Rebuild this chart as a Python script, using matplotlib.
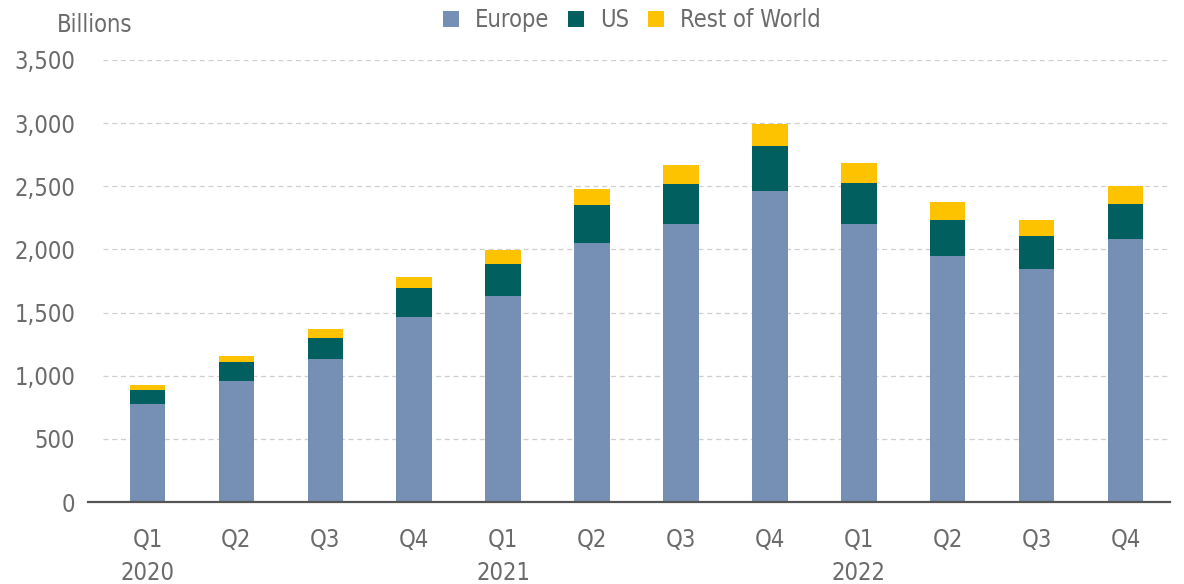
import matplotlib
matplotlib.use("Agg")
import matplotlib.pyplot as plt
import numpy as np

quarters = ["Q1\n2020", "Q2", "Q3", "Q4", "Q1\n2021", "Q2", "Q3", "Q4",
            "Q1\n2022", "Q2", "Q3", "Q4"]
europe = [775, 960, 1130, 1465, 1631, 2051, 2202, 2463, 2202, 1950, 1845, 2082]
us = [112, 150, 172, 229, 256, 301, 317, 357, 324, 283, 263, 280]
rest_of_world = [40, 45, 66, 90, 106, 124, 150, 170, 159, 140, 125, 140]
yticks = [0, 500, 1000, 1500, 2000, 2500, 3000, 3500]

plt.rcParams["font.family"] = ["DejaVu Sans"]
plt.rcParams["font.stretch"] = "condensed"
text_color = "#6b6b6b"

fig = plt.figure(figsize=(11.84, 5.84), dpi=100)
ax = fig.add_axes([103 / 1184, 82 / 584, (1170 - 103) / 1184, 442 / 584])

x = np.arange(len(quarters))
eu = np.array(europe)
us_arr = np.array(us)
row = np.array(rest_of_world)
w = 0.40
ax.bar(x, eu, w, color="#7590b4", label="Europe", zorder=3)
ax.bar(x, us_arr, w, bottom=eu, color="#015f5f", label="US", zorder=3)
ax.bar(x, row, w, bottom=eu + us_arr, color="#fdc300", label="Rest of World", zorder=3)

ax.set_xlim(-0.5, len(quarters) - 0.5)
ax.set_ylim(0, 3500)
ax.set_yticks(yticks)
ax.set_yticklabels([f"{v:,}" for v in yticks])
ax.set_xticks(x)
ax.set_xticklabels(quarters, linespacing=1.45)

for v in yticks[1:]:
    ax.axhline(v, color="#cfcfcf", lw=0.9, ls=(0, (4, 3)), zorder=1)

for s in ["top", "right", "left", "bottom"]:
    ax.spines[s].set_visible(False)
ax.plot([-0.014, 1], [0, 0], transform=ax.transAxes, color="#555555",
        lw=1.6, clip_on=False, zorder=4)

ax.tick_params(axis="both", length=0, labelsize=17, colors=text_color)
ax.tick_params(axis="y", pad=20)
ax.tick_params(axis="x", pad=19)

fig.text(57 / 1184, 1 - 25 / 584, "Billions", fontsize=17, color=text_color,
         va="center", ha="left")

leg = fig.legend(loc="center", bbox_to_anchor=(632 / 1184, 1 - 20 / 584), ncol=3,
                 frameon=False, fontsize=17, handlelength=0.65, handleheight=0.65,
                 handletextpad=0.7, columnspacing=0.8, borderaxespad=0)
for t in leg.get_texts():
    t.set_color(text_color)

fig.savefig("out.png", dpi=100)
